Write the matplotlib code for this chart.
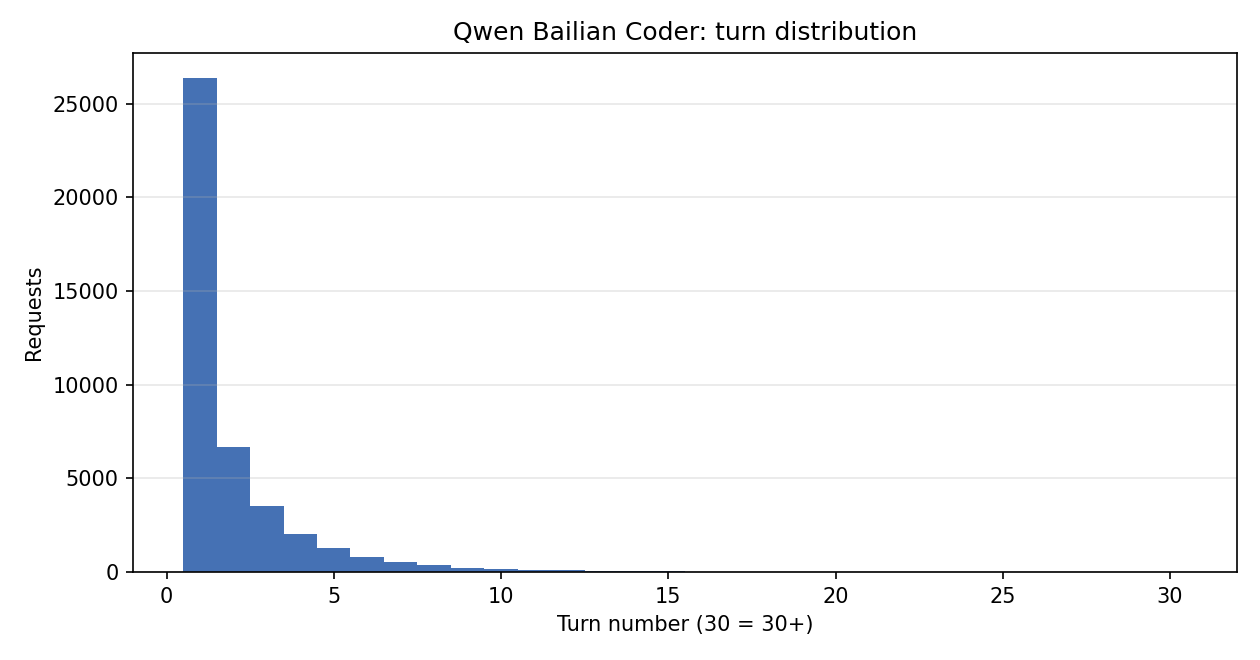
import numpy as np
import matplotlib
matplotlib.use('Agg')
import matplotlib.pyplot as plt

# turn number (30 = 30+) and request counts
turns = list(range(1, 31))
requests = [26380, 6680, 3530, 2030, 1280, 800, 550, 380, 230, 180,
            130, 130, 70, 70, 70, 20, 18, 16, 14, 12,
            11, 10, 9, 8, 8, 7, 7, 6, 6, 15]

fig, ax = plt.subplots(figsize=(8.4, 4.4), dpi=150)
ax.hist(turns, bins=np.arange(0.5, 31.5, 1), weights=requests, color='#4571b4')

ax.set_title('Qwen Bailian Coder: turn distribution')
ax.set_xlabel('Turn number (30 = 30+)')
ax.set_ylabel('Requests')
ax.grid(True, axis='y', alpha=0.3)

fig.subplots_adjust(left=0.1056, right=0.9817, top=0.9197, bottom=0.1333)
plt.savefig('out.png')
